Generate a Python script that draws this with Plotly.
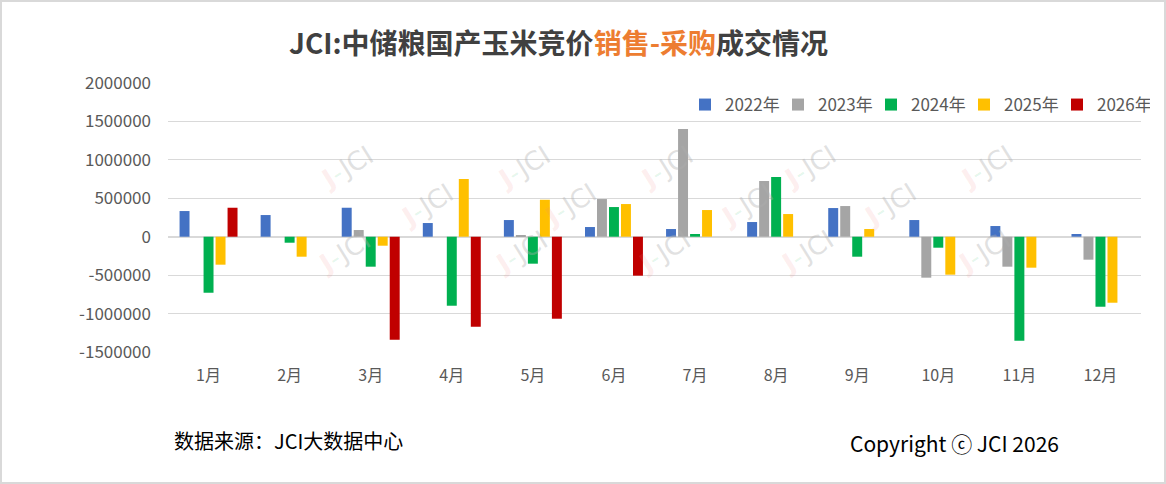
import plotly.graph_objects as go

months = ["1月", "2月", "3月", "4月", "5月", "6月", "7月", "8月", "9月", "10月", "11月", "12月"]
years = ["2022年", "2023年", "2024年", "2025年", "2026年"]
colors = ["#4472C4", "#A5A5A5", "#00B050", "#FFC000", "#C00000"]

v2022 = [334000, 282000, 377000, 178000, 217000, 126000, 100000, 191000, 373000, 217000, 139000, 35000]
v2023 = [0, 0, 87000, 0, 22000, 490000, 1401000, 725000, 399000, -533000, -390000, -299000]
v2024 = [-729000, -78000, -390000, -898000, -351000, 386000, 35000, 777000, -260000, -143000, -1353000, -911000]
v2025 = [-364000, -260000, -117000, 751000, 481000, 425000, 347000, 295000, 100000, -494000, -403000, -859000]
v2026 = [377000, None, -1340000, -1171000, -1067000, -507000, None, None, None, None, None, None]
series = [v2022, v2023, v2024, v2025, v2026]

ytick_vals = [-1500000, -1000000, -500000, 0, 500000, 1000000, 1500000, 2000000]
ytick_text = [str(v) for v in ytick_vals]

W, H = 1166, 484
ML, MR, MT, MB = 168, 25, 83, 132
PW, PH = W - ML - MR, H - MT - MB

def px(x):
    return (x - ML) / PW

def py(y):
    return (H - MB - y) / PH

fig = go.Figure()
for name, vals, c in zip(years, series, colors):
    fig.add_trace(go.Bar(x=months, y=vals, name=name, marker=dict(color=c, line=dict(width=0))))

font_main = "Noto Sans CJK SC, Noto Sans, sans-serif"

# watermarks
wm_rows = [(137, [313, 490, 667, 844, 1021]), (205, [393, 570, 747, 924]), (282, [310, 487, 664, 841, 1018])]
annotations = []
for wy, xs in wm_rows:
    for wx in xs:
        annotations.append(dict(
            x=px(wx), y=py(wy), xref="paper", yref="paper", showarrow=False,
            text='<span style="color:rgba(240,130,130,0.35)"><b>J</b></span>'
                 '<span style="color:rgba(0,176,80,0.30)">-</span>JCI',
            textangle=-32, font=dict(family="DejaVu Sans, sans-serif", size=26, color="rgba(175,175,175,0.38)"),
        ))

annotations.append(dict(
    x=px(558), y=py(42), xref="paper", yref="paper", showarrow=False, xanchor="center", yanchor="middle",
    text='JCI:中储粮国产玉米竞价<span style="color:#ED7D31">销售-采购</span>成交情况',
    font=dict(family=font_main, size=28, color="#404040", weight="bold"),
))
annotations.append(dict(
    x=px(172), y=py(440), xref="paper", yref="paper", showarrow=False, xanchor="left", yanchor="middle",
    text="数据来源：JCI大数据中心", font=dict(family=font_main, size=20, color="#000000"),
))
annotations.append(dict(
    x=px(848), y=py(443), xref="paper", yref="paper", showarrow=False, xanchor="left", yanchor="middle",
    text="Copyright ⓒ JCI 2026", font=dict(family=font_main, size=21, color="#000000"),
))

shapes = [dict(type="rect", xref="paper", yref="paper", x0=px(1), x1=px(1165), y0=py(483), y1=py(1),
               line=dict(color="#D9D9D9", width=2), fillcolor="rgba(0,0,0,0)", layer="below")]

fig.update_layout(
    width=W, height=H,
    margin=dict(l=ML, r=MR, t=MT, b=MB),
    paper_bgcolor="white", plot_bgcolor="white",
    barmode="group", bargap=0.26, bargroupgap=0.17,
    showlegend=True,
    legend=dict(orientation="h", x=px(1150), xanchor="right", y=py(105), yanchor="middle",
                font=dict(family=font_main, size=17, color="#595959"), bgcolor="rgba(0,0,0,0)",
                traceorder="normal", entrywidth=48, entrywidthmode="pixels"),
    xaxis=dict(showgrid=False, showline=False, ticks="", tickfont=dict(family=font_main, size=16, color="#595959"),
               ticklabelstandoff=12),
    yaxis=dict(range=[-1500000, 2000000], tickvals=ytick_vals, ticktext=ytick_text, showgrid=True,
               gridcolor="#D9D9D9", gridwidth=1, zeroline=True, zerolinecolor="#D9D9D9", zerolinewidth=1.5,
               showline=False, ticks="", tickfont=dict(family=font_main, size=17, color="#595959"),
               ticklabelstandoff=16),
    annotations=annotations, shapes=shapes,
)

fig.write_html("out.html", config={"displayModeBar": False}, post_script="document.body.style.margin='0';")
